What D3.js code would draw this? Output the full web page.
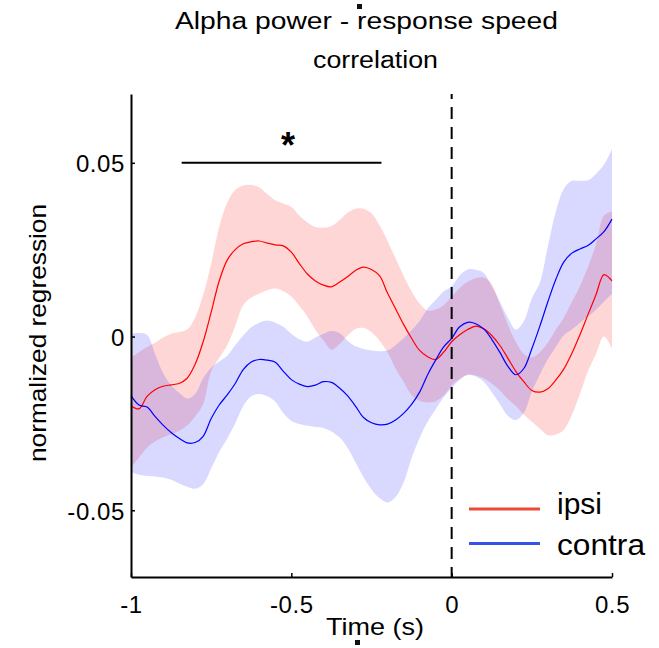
<!DOCTYPE html>
<html>
<head>
<meta charset="utf-8">
<script src="https://cdn.jsdelivr.net/npm/d3@7"></script>
<style>
  body { margin: 0; background: #fff; }
  svg { display: block; }
  text { font-family: "Liberation Sans", Arial, sans-serif; fill: #000; }
</style>
</head>
<body>
<svg id="chart" width="659" height="648"></svg>
<script>
// time axis (s)
let time = [-1, -0.975, -0.95, -0.925, -0.9, -0.875, -0.85, -0.825, -0.8, -0.775,
    -0.75, -0.725, -0.7, -0.675, -0.65, -0.625, -0.6, -0.575, -0.55, -0.525,
    -0.5, -0.475, -0.45, -0.425, -0.4, -0.375, -0.35, -0.325, -0.3, -0.275,
    -0.25, -0.225, -0.2, -0.175, -0.15, -0.125, -0.1, -0.075, -0.05, -0.025,
    0, 0.025, 0.05, 0.075, 0.1, 0.125, 0.15, 0.175, 0.2, 0.225,
    0.25, 0.275, 0.3, 0.325, 0.35, 0.375, 0.4, 0.425, 0.45, 0.475, 0.5];

// ipsi (red)
let ipsiMean = [-0.0199, -0.0208, -0.0172, -0.0153, -0.0143, -0.0139, -0.0135, -0.0120, -0.0080, -0.0015,
    0.0070, 0.0160, 0.0220, 0.0250, 0.0267, 0.0273, 0.0275, 0.0269, 0.0264, 0.0261,
    0.0243, 0.0210, 0.0180, 0.0160, 0.0148, 0.0143, 0.0156, 0.0172, 0.0190, 0.0200,
    0.0193, 0.0175, 0.0125, 0.0080, 0.0035, -0.0005, -0.0040, -0.0058, -0.0066, -0.0045,
    -0.0015, 0.0005, 0.0020, 0.0030, 0.0022, 0.0003, -0.0025, -0.0062, -0.0100, -0.0130,
    -0.0155, -0.0160, -0.0150, -0.0125, -0.0093, -0.0048, 0.0005, 0.0063, 0.0120, 0.0178,
    0.0160];
let ipsiUpper = [-0.0060, -0.0045, -0.0030, -0.0018, -0.0003, 0.0008, 0.0013, 0.0020, 0.0055, 0.0120,
    0.0210, 0.0315, 0.0385, 0.0422, 0.0435, 0.0436, 0.0430, 0.0410, 0.0392, 0.0383,
    0.0373, 0.0348, 0.0328, 0.0315, 0.0313, 0.0318, 0.0335, 0.0356, 0.0368, 0.0368,
    0.0355, 0.0320, 0.0275, 0.0225, 0.0175, 0.0130, 0.0095, 0.0075, 0.0078, 0.0090,
    0.0115, 0.0140, 0.0158, 0.0168, 0.0170, 0.0150, 0.0094, 0.0035, -0.0015, -0.0050,
    -0.0060, -0.0045, -0.0018, 0.0020, 0.0055, 0.0100, 0.0145, 0.0200, 0.0265, 0.0348,
    0.0360];
let ipsiLower = [-0.0377, -0.0348, -0.0320, -0.0302, -0.0290, -0.0281, -0.0272, -0.0256, -0.0230, -0.0195,
    -0.0100, -0.0062, -0.0025, 0.0030, 0.0090, 0.0112, 0.0124, 0.0133, 0.0138, 0.0130,
    0.0115, 0.0088, 0.0058, 0.0019, -0.0011, -0.0038, -0.0022, 0.0002, 0.0022, 0.0025,
    0.0012, -0.0012, -0.0045, -0.0092, -0.0130, -0.0168, -0.0185, -0.0190, -0.0186, -0.0170,
    -0.0140, -0.0122, -0.0110, -0.0112, -0.0120, -0.0135, -0.0155, -0.0180, -0.0200, -0.0225,
    -0.0245, -0.0265, -0.0284, -0.0282, -0.0268, -0.0225, -0.0165, -0.0100, -0.0050, 0.0000,
    -0.0035];

// contra (blue)
let contraMean = [-0.0170, -0.0197, -0.0203, -0.0230, -0.0255, -0.0276, -0.0293, -0.0306, -0.0305, -0.0287,
    -0.0236, -0.0197, -0.0168, -0.0135, -0.0095, -0.0073, -0.0066, -0.0068, -0.0074, -0.0100,
    -0.0124, -0.0137, -0.0144, -0.0140, -0.0130, -0.0132, -0.0148, -0.0170, -0.0200, -0.0233,
    -0.0248, -0.0254, -0.0252, -0.0240, -0.0221, -0.0195, -0.0160, -0.0110, -0.0068, -0.0030,
    -0.0005, 0.0028, 0.0041, 0.0037, 0.0022, -0.0008, -0.0045, -0.0085, -0.0110, -0.0092,
    -0.0035, 0.0030, 0.0100, 0.0165, 0.0215, 0.0240, 0.0252, 0.0262, 0.0281, 0.0302,
    0.0338];
let contraUpper = [0.0008, 0.0010, 0.0005, -0.0050, -0.0105, -0.0140, -0.0162, -0.0178, -0.0165, -0.0120,
    -0.0090, -0.0072, -0.0055, -0.0025, 0.0003, 0.0027, 0.0040, 0.0046, 0.0040, 0.0028,
    0.0008, -0.0008, -0.0015, -0.0003, 0.0008, 0.0016, 0.0010, -0.0012, -0.0028, -0.0036,
    -0.0040, -0.0042, -0.0040, -0.0025, -0.0005, 0.0018, 0.0045, 0.0080, 0.0105, 0.0130,
    0.0145, 0.0176, 0.0193, 0.0192, 0.0183, 0.0145, 0.0101, 0.0055, 0.0020, 0.0044,
    0.0110, 0.0155, 0.0260, 0.0360, 0.0425, 0.0448, 0.0448, 0.0450, 0.0468, 0.0495,
    0.0540];
let contraLower = [-0.0390, -0.0398, -0.0401, -0.0403, -0.0406, -0.0412, -0.0423, -0.0432, -0.0438, -0.0425,
    -0.0380, -0.0332, -0.0294, -0.0250, -0.0200, -0.0172, -0.0165, -0.0172, -0.0188, -0.0220,
    -0.0243, -0.0252, -0.0257, -0.0260, -0.0263, -0.0273, -0.0290, -0.0320, -0.0362, -0.0405,
    -0.0440, -0.0465, -0.0478, -0.0462, -0.0420, -0.0350, -0.0292, -0.0245, -0.0210, -0.0175,
    -0.0148, -0.0125, -0.0110, -0.0115, -0.0130, -0.0160, -0.0194, -0.0228, -0.0240, -0.0220,
    -0.0159, -0.0110, -0.0065, -0.0030, 0.0004, 0.0020, 0.0040, 0.0058, 0.0077, 0.0100,
    0.0123];

let xTicks = [-1, -0.5, 0, 0.5];
let yTicks = [-0.05, 0, 0.05];
let sigWindow = [-0.842, -0.219];   // significance bar
let sigStarTime = -0.51;
let legendLabels = ["ipsi", "contra"];

let svg = d3.select("#chart");

let x = d3.scaleLinear().domain([-1, 0.5]).range([131, 612]);
let y = d3.scaleLinear().domain([-0.0692, 0.0698]).range([577, 94]);

// build rows for the generators
let ipsi = time.map((t, i) => ({t: t, m: ipsiMean[i], lo: ipsiLower[i], hi: ipsiUpper[i]}));
let contra = time.map((t, i) => ({t: t, m: contraMean[i], lo: contraLower[i], hi: contraUpper[i]}));

let area = d3.area()
    .x(d => x(d.t))
    .y0(d => y(d.lo))
    .y1(d => y(d.hi))
    .curve(d3.curveCatmullRom.alpha(0.5));
let line = d3.line()
    .x(d => x(d.t))
    .y(d => y(d.m))
    .curve(d3.curveCatmullRom.alpha(0.5));

// shaded error bands
svg.append("path").attr("d", area(ipsi))
    .attr("fill", "#ff0000").attr("fill-opacity", 0.16);
svg.append("path").attr("d", area(contra))
    .attr("fill", "#0000ff").attr("fill-opacity", 0.15);

// mean lines
svg.append("path").attr("d", line(ipsi))
    .attr("fill", "none").attr("stroke", "#ff0000").attr("stroke-width", 1.2);
svg.append("path").attr("d", line(contra))
    .attr("fill", "none").attr("stroke", "#0000ff").attr("stroke-width", 1.2);

// dashed line at time 0
svg.append("line")
    .attr("x1", x(0)).attr("x2", x(0))
    .attr("y1", 94).attr("y2", 577)
    .attr("stroke", "#000").attr("stroke-width", 2)
    .attr("stroke-dasharray", "12,8").attr("stroke-dashoffset", 7);

// axes
let yAxis = d3.axisLeft(y).tickValues(yTicks)
    .tickFormat(d => d === 0 ? "0" : d3.format(".2f")(d).replace("\u2212", "-"))
    .tickSizeInner(-4).tickSizeOuter(0).tickPadding(6);
let xAxis = d3.axisBottom(x).tickValues(xTicks)
    .tickFormat(d => d === 0 ? "0" : String(d))
    .tickSizeInner(-4).tickSizeOuter(0).tickPadding(19);

let gy = svg.append("g").attr("transform", "translate(131,0)").call(yAxis);
let gx = svg.append("g").attr("transform", "translate(0,577)").call(xAxis);

[gx, gy].forEach(g => {
    g.select(".domain").attr("stroke", "#000").attr("stroke-width", 2);
    g.selectAll(".tick line").attr("stroke", "#000").attr("stroke-width", 1.5);
    g.selectAll(".tick text")
        .attr("font-family", "'Liberation Sans', Arial, sans-serif")
        .attr("font-size", 24).attr("letter-spacing", "0.6px").attr("fill", "#000");
});
gy.selectAll(".tick text").attr("dy", "0.38em");

// significance bar
svg.append("line")
    .attr("x1", x(sigWindow[0])).attr("x2", x(sigWindow[1]))
    .attr("y1", y(0.05)).attr("y2", y(0.05))
    .attr("stroke", "#000").attr("stroke-width", 2);
svg.append("text")
    .attr("x", x(sigStarTime)).attr("y", 158)
    .attr("text-anchor", "middle").attr("font-size", 36).attr("font-weight", "bold")
    .text("*");

// title
svg.append("text").attr("x", 366.5).attr("y", 29)
    .attr("text-anchor", "middle").attr("font-size", 23)
    .attr("textLength", 383).attr("lengthAdjust", "spacingAndGlyphs")
    .text("Alpha power - response speed");
svg.append("text").attr("x", 375.5).attr("y", 68)
    .attr("text-anchor", "middle").attr("font-size", 23)
    .attr("textLength", 125).attr("lengthAdjust", "spacingAndGlyphs")
    .text("correlation");

// axis labels
svg.append("text")
    .attr("transform", "translate(46,333) rotate(-90)")
    .attr("text-anchor", "middle").attr("font-size", 24)
    .attr("textLength", 258).attr("lengthAdjust", "spacingAndGlyphs")
    .text("normalized regression");
svg.append("text").attr("x", 375).attr("y", 635)
    .attr("text-anchor", "middle").attr("font-size", 24)
    .attr("textLength", 98).attr("lengthAdjust", "spacingAndGlyphs")
    .text("Time (s)");

// little marks left in the original picture
svg.append("rect").attr("x", 357).attr("y", 4).attr("width", 5).attr("height", 5).attr("fill", "#111");
svg.append("rect").attr("x", 355).attr("y", 640).attr("width", 5).attr("height", 5).attr("fill", "#111");

// legend
let legendColors = ["#ec4a3a", "#3652ee"];
let legendY = [509, 543.5];
let legendLen = [45, 88];
let leg = svg.append("g");
legendLabels.forEach((lab, i) => {
    leg.append("line")
        .attr("x1", 469).attr("x2", 540)
        .attr("y1", legendY[i]).attr("y2", legendY[i])
        .attr("stroke", legendColors[i]).attr("stroke-width", 3.2);
    leg.append("text")
        .attr("x", 557).attr("y", legendY[i] + (i === 0 ? 5 : 11.5))
        .attr("font-family", "Lato, 'Open Sans', sans-serif")
        .attr("font-size", 29).attr("fill", "#111")
        .attr("textLength", legendLen[i]).attr("lengthAdjust", "spacingAndGlyphs")
        .text(lab);
});
</script>
</body>
</html>
